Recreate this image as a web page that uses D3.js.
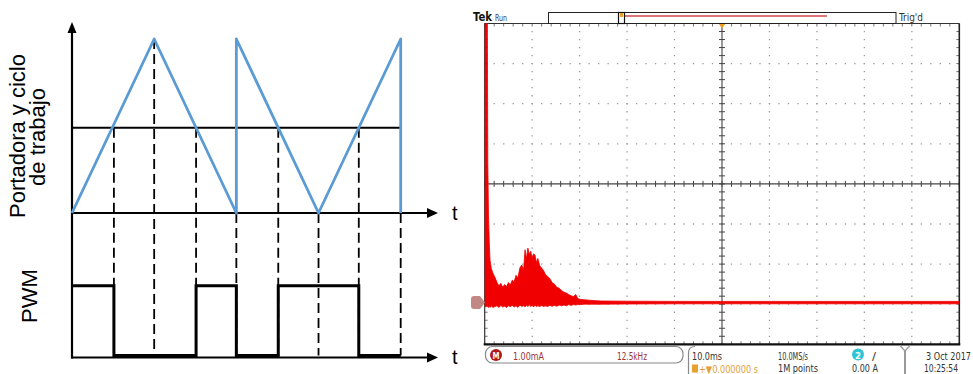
<!DOCTYPE html>
<html>
<head>
<meta charset="utf-8">
<script src="https://cdn.jsdelivr.net/npm/d3@7"></script>
<style>
html, body { margin: 0; padding: 0; background: #fff; }
svg { display: block; }
</style>
</head>
<body>
<div id="container"></div>
<script>
/* CONSTANTS AND GLOBALS */
const width = 973, height = 374;

// LEFT: carrier triangle + duty level (time in carrier half periods)
const carrierT = [0, 1, 2, 2, 3, 4, 4];
const carrierV = [0, 1, 0, 1, 0, 1, 0];
const dutyLevel = 0.49;
const pwmEdges = [0, 0.51, 1.51, 2, 2.51, 3.49, 4];
const pwmLevels = [1, 0, 1, 0, 1, 0, 0];
const dashT = [0.51, 1, 1.51, 2, 2.51, 3, 3.49, 4];
const dashFrom = [0.49, 1, 0.49, 0, 0.49, 0, 0.49, 0];

// RIGHT: scope trace, ms from left edge of screen, mA (upper / lower envelope)
const sigTime = [0, 0.55, 0.65, 0.8, 0.97, 1.12, 1.4, 1.7, 2.2, 2.6, 3.0, 3.4, 3.8, 4.2, 4.6, 5.0, 5.4, 5.8,
  6.2, 6.6, 7.0, 7.4, 7.8, 8.2, 8.5, 8.8, 9.1, 9.4, 9.7, 10.0, 10.3, 10.6, 10.9, 11.2, 11.6, 12.0, 12.4,
  12.8, 13.2, 13.7, 14.2, 14.7, 15.2, 15.7, 16.2, 16.7, 17.2, 17.7, 18.2, 18.7, 19.2, 19.6, 20.2, 21.0,
  22.0, 23.0, 24.5, 30, 40, 50, 60, 70, 80, 90, 100];
const sigHigh = [7.5, 7.5, 3.5, 2.2, 1.48, 1.06, 0.85, 0.74, 0.62, 0.5, 0.42, 0.48, 0.38, 0.45, 0.4, 0.5, 0.44, 0.56,
  0.52, 0.68, 0.62, 0.86, 0.94, 0.82, 1.32, 1.1, 1.36, 1.2, 1.28, 1.12, 1.22, 1.18, 1.0, 1.1, 0.92, 0.86, 0.8,
  0.7, 0.66, 0.6, 0.5, 0.46, 0.38, 0.36, 0.3, 0.26, 0.24, 0.2, 0.17, 0.15, 0.2, 0.1, 0.08, 0.07,
  0.06, 0.05, 0.04, 0.035, 0.03, 0.03, 0.03, 0.03, 0.03, 0.03, 0.03];
const sigLow = [-0.1, -0.1, -0.1, -0.12, -0.1, -0.12, -0.08, -0.12, -0.1, -0.08, -0.12, -0.07, -0.11, -0.09, -0.12, -0.08, -0.1, -0.07,
  -0.11, -0.08, -0.12, -0.06, -0.1, -0.07, -0.11, -0.06, -0.1, -0.05, -0.1, -0.07, -0.11, -0.06, -0.1, -0.08, -0.1, -0.07, -0.1,
  -0.08, -0.1, -0.07, -0.09, -0.07, -0.09, -0.06, -0.08, -0.06, -0.08, -0.05, -0.07, -0.05, -0.06, -0.05, -0.05, -0.04,
  -0.04, -0.04, -0.04, -0.035, -0.03, -0.03, -0.03, -0.03, -0.03, -0.03, -0.03];

const svg = d3.select("#container")
  .append("svg")
  .attr("width", width)
  .attr("height", height);

/* ---------------- LEFT DIAGRAM ---------------- */
const tX = d3.scaleLinear().domain([0, 4]).range([72, 400.7]);
const carY = d3.scaleLinear().domain([0, 1]).range([213, 39]);
const pwmY = d3.scaleLinear().domain([0, 1]).range([355.5, 285.7]);

const left = svg.append("g");

// dashed projections
left.selectAll(".proj")
  .data(dashT)
  .join("line")
  .attr("class", "proj")
  .attr("x1", d => tX(d)).attr("x2", d => tX(d))
  .attr("y1", (d, i) => carY(dashFrom[i]))
  .attr("y2", pwmY(0))
  .attr("stroke", "#000")
  .attr("stroke-width", 1.8)
  .attr("stroke-dasharray", "10,5");

// axes
const axisCol = "#000";
left.append("line").attr("x1", 72).attr("x2", 72).attr("y1", 358.5).attr("y2", 30)
  .attr("stroke", axisCol).attr("stroke-width", 2.2);
left.append("path").attr("d", "M72,22 L67.5,33 L76.5,33 Z").attr("fill", axisCol);
[carY(0), 357.5].forEach(y => {
  left.append("line").attr("x1", 71).attr("x2", 430).attr("y1", y).attr("y2", y)
    .attr("stroke", axisCol).attr("stroke-width", 2);
  left.append("path").attr("d", `M438,${y} L427,${y - 5} L427,${y + 5} Z`).attr("fill", axisCol);
  left.append("text").attr("x", 452).attr("y", y + 6.5)
    .attr("font-family", "Liberation Sans, Arial, sans-serif").attr("font-size", 20)
    .text("t");
});

// duty level
left.append("line")
  .attr("x1", tX(0)).attr("x2", tX(4))
  .attr("y1", carY(dutyLevel)).attr("y2", carY(dutyLevel))
  .attr("stroke", "#000").attr("stroke-width", 2);

// carrier
const carrierLine = d3.line()
  .x(i => tX(carrierT[i]))
  .y(i => carY(carrierV[i]));
left.append("path")
  .attr("d", carrierLine(d3.range(carrierT.length)))
  .attr("fill", "none")
  .attr("stroke", "#5b9bd5")
  .attr("stroke-width", 2.8)
  .attr("stroke-linejoin", "round");

// PWM output
const pwmLine = d3.line()
  .x(i => tX(pwmEdges[i]))
  .y(i => pwmY(pwmLevels[i]))
  .curve(d3.curveStepAfter);
left.append("path")
  .attr("d", pwmLine(d3.range(pwmEdges.length)))
  .attr("fill", "none")
  .attr("stroke", "#000")
  .attr("stroke-width", 3);

// y labels
const lab = left.append("g")
  .attr("font-family", "Liberation Sans, Arial, sans-serif")
  .attr("font-size", 22)
  .attr("text-anchor", "middle");
lab.append("text").attr("transform", "translate(25,136) rotate(-90)").text("Portadora y ciclo");
lab.append("text").attr("transform", "translate(45,137) rotate(-90)").text("de trabajo");
lab.append("text").attr("transform", "translate(37,296) rotate(-90)").text("PWM");

/* ---------------- OSCILLOSCOPE ---------------- */
const gx = d3.scaleLinear().domain([0, 10]).range([484.7, 959.3]);
const gy = d3.scaleLinear().domain([0, 8]).range([344.3, 23.5]);
const sx = d3.scaleLinear().domain([0, 100]).range([484.7, 959.3]);
const sy = d3.scaleLinear().domain([-1.04, 6.96]).range([344.3, 23.5]);

const scope = svg.append("g");

// dotted grid
d3.range(1, 10).filter(k => k !== 5).forEach(k => {
  scope.append("line")
    .attr("x1", gx(k)).attr("x2", gx(k)).attr("y1", gy(8)).attr("y2", gy(0))
    .attr("stroke", "#9a9a9a").attr("stroke-width", 1.3)
    .attr("stroke-dasharray", "1.3,6.72").attr("stroke-dashoffset", 0.6);
});
d3.range(1, 8).filter(k => k !== 4).forEach(k => {
  scope.append("line")
    .attr("x1", gx(0)).attr("x2", gx(10)).attr("y1", gy(k)).attr("y2", gy(k))
    .attr("stroke", "#9a9a9a").attr("stroke-width", 1.3)
    .attr("stroke-dasharray", "1.3,8.19").attr("stroke-dashoffset", 0.6);
});

// centre crosshair + border ticks
const tickCol = "#444";
scope.append("line").attr("x1", gx(0)).attr("x2", gx(10)).attr("y1", gy(4)).attr("y2", gy(4))
  .attr("stroke", tickCol).attr("stroke-width", 1.1);
scope.append("line").attr("x1", gx(5)).attr("x2", gx(5)).attr("y1", gy(0)).attr("y2", gy(8))
  .attr("stroke", tickCol).attr("stroke-width", 1.1);
d3.range(0, 10.01, 0.2).forEach(v => {
  const x = gx(v);
  scope.append("line").attr("x1", x).attr("x2", x).attr("y1", gy(4) - 3).attr("y2", gy(4) + 3)
    .attr("stroke", tickCol);
  scope.append("line").attr("x1", x).attr("x2", x).attr("y1", gy(8)).attr("y2", gy(8) + 3)
    .attr("stroke", "#777");
  scope.append("line").attr("x1", x).attr("x2", x).attr("y1", gy(0)).attr("y2", gy(0) - 3)
    .attr("stroke", "#777");
});
d3.range(0, 8.01, 0.2).forEach(v => {
  const y = gy(v);
  scope.append("line").attr("x1", gx(5) - 3).attr("x2", gx(5) + 3).attr("y1", y).attr("y2", y)
    .attr("stroke", tickCol);
  scope.append("line").attr("x1", gx(10)).attr("x2", gx(10) - 3).attr("y1", y).attr("y2", y)
    .attr("stroke", "#777");
  scope.append("line").attr("x1", gx(0)).attr("x2", gx(0) + 3).attr("y1", y).attr("y2", y)
    .attr("stroke", "#777");
});

// borders
scope.append("line").attr("x1", gx(0)).attr("x2", gx(10)).attr("y1", gy(8)).attr("y2", gy(8))
  .attr("stroke", "#333").attr("stroke-width", 1.2);
scope.append("line").attr("x1", gx(0)).attr("x2", gx(0)).attr("y1", gy(8)).attr("y2", gy(0))
  .attr("stroke", "#333").attr("stroke-width", 1.2);
scope.append("line").attr("x1", gx(10)).attr("x2", gx(10)).attr("y1", gy(8)).attr("y2", gy(0))
  .attr("stroke", "#222").attr("stroke-width", 1.6);
scope.append("line").attr("x1", gx(0) - 1).attr("x2", gx(10) + 1).attr("y1", gy(0)).attr("y2", gy(0))
  .attr("stroke", "#111").attr("stroke-width", 2.2);

// trace
svg.append("clipPath").attr("id", "screen")
  .append("rect").attr("x", gx(0)).attr("y", gy(8))
  .attr("width", gx(10) - gx(0)).attr("height", gy(0) - gy(8));

const traceArea = d3.area()
  .x(i => sx(sigTime[i]))
  .y0(i => sy(sigLow[i]))
  .y1(i => sy(sigHigh[i]));
scope.append("path")
  .attr("clip-path", "url(#screen)")
  .attr("d", traceArea(d3.range(sigTime.length)))
  .attr("fill", "#f00000")
  .attr("stroke", "#f00000")
  .attr("stroke-width", 0.8);

// ground marker
const g0 = sy(0);
scope.append("path")
  .attr("d", `M474,${g0 - 6.5} L480,${g0 - 6.5} L485,${g0} L480,${g0 + 6.5} L474,${g0 + 6.5} Q471,${g0 + 6.5} 471,${g0 + 3.5} L471,${g0 - 3.5} Q471,${g0 - 6.5} 474,${g0 - 6.5} Z`)
  .attr("fill", "#c28884");

// trigger position marker
scope.append("path").attr("d", `M${gx(5) - 3.5},${gy(8)} L${gx(5) + 3.5},${gy(8)} L${gx(5)},${gy(8) + 5} Z`)
  .attr("fill", "#f0a020");

// helper for condensed scope text
function stxt(x, y, str, size, len, col, weight) {
  return scope.append("text")
    .attr("x", x).attr("y", y)
    .attr("font-family", "Liberation Sans Narrow, DejaVu Sans Condensed, Liberation Sans, Arial, sans-serif")
    .attr("font-size", size)
    .attr("font-weight", weight || "normal")
    .attr("fill", col)
    .attr("textLength", len)
    .attr("lengthAdjust", "spacingAndGlyphs")
    .text(str);
}

// top bar
stxt(473, 20.5, "Tek", 13, 19, "#111", "bold");
stxt(495, 20.5, "Run", 9.5, 12, "#333");
scope.append("rect").attr("x", 548.5).attr("y", 12.5).attr("width", 347.5).attr("height", 11)
  .attr("fill", "#fff").attr("stroke", "#222").attr("stroke-width", 1);
scope.append("line").attr("x1", 625).attr("x2", 827).attr("y1", 16).attr("y2", 16)
  .attr("stroke", "#d04848").attr("stroke-width", 1.3);
scope.append("rect").attr("x", 618.5).attr("y", 12.5).attr("width", 6).attr("height", 11)
  .attr("fill", "#fff").attr("stroke", "#111").attr("stroke-width", 1.2);
scope.append("rect").attr("x", 620).attr("y", 13).attr("width", 3).attr("height", 4).attr("fill", "#f0a030");
stxt(899, 20.5, "Trig'd", 10, 24, "#333");

// bottom info bar
scope.append("rect").attr("x", 485.5).attr("y", 346.5).attr("width", 197.5).attr("height", 16.5)
  .attr("rx", 7).attr("fill", "none").attr("stroke", "#888").attr("stroke-width", 1.2);
scope.append("circle").attr("cx", 496).attr("cy", 355).attr("r", 6).attr("fill", "#b41818");
stxt(492.5, 358.5, "M", 9, 7, "#fff", "bold");
stxt(513, 359.5, "1.00mA", 11, 31, "#a03434");
stxt(617, 359.5, "12.5kHz", 11, 30, "#a03434");

scope.append("path").attr("d", "M695,346.5 Q688.5,346.5 688.5,353 L688.5,374")
  .attr("fill", "none").attr("stroke", "#888").attr("stroke-width", 1.2);
stxt(692, 359.5, "10.0ms", 11, 30, "#333");
scope.append("rect").attr("x", 692).attr("y", 364.5).attr("width", 6).attr("height", 8).attr("fill", "#e8a030");
stxt(699, 372.5, "+\u25BC0.000000 s", 10, 59, "#e0a040");
stxt(778, 359.5, "10.0MS/s", 11, 30, "#333");
stxt(778, 372, "1M points", 11, 40, "#333");

scope.append("circle").attr("cx", 858).attr("cy", 354.5).attr("r", 6).attr("fill", "#2ec4d6");
stxt(855, 358.5, "2", 9, 6, "#fff", "bold");
stxt(872, 359.5, "/", 11, 4, "#333");
stxt(852, 372, "0.00 A", 11, 26, "#333");

scope.append("path").attr("d", "M900,345.5 L905,351 L910,345.5")
  .attr("fill", "none").attr("stroke", "#999").attr("stroke-width", 1.2);
scope.append("line").attr("x1", 905).attr("x2", 905).attr("y1", 351).attr("y2", 374)
  .attr("stroke", "#999").attr("stroke-width", 2);
stxt(926, 359.5, "3 Oct  2017", 11, 45, "#333");
stxt(924, 372, "10:25:54", 11, 34, "#333");
</script>
</body>
</html>
